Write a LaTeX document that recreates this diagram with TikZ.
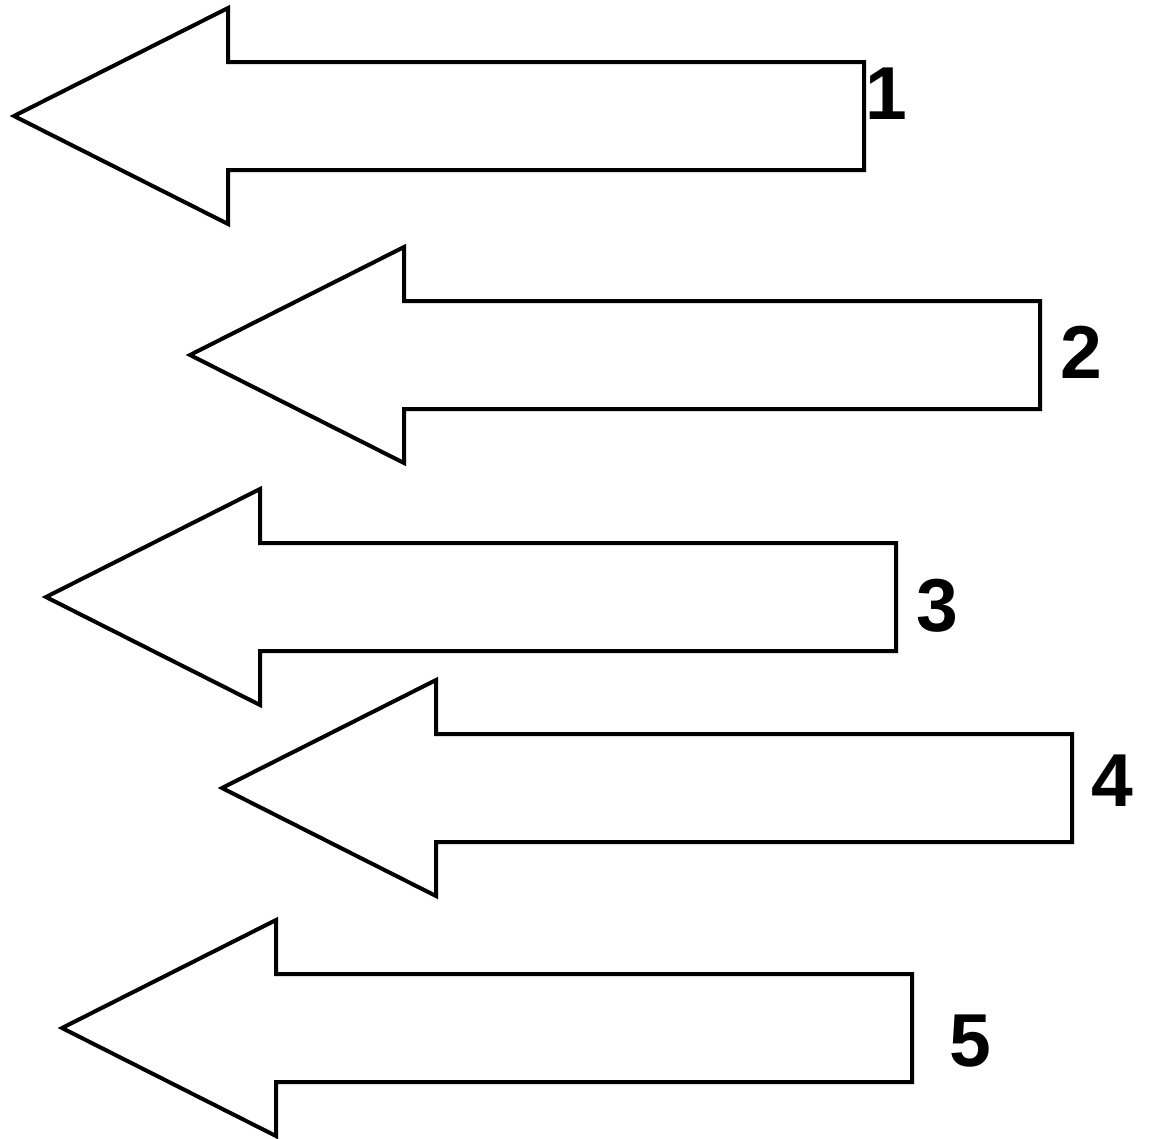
\documentclass[tikz,border=0pt]{standalone}
\usepackage{fontspec}
\setmainfont{Liberation Sans}
\usepackage{tikz}

\begin{document}
\begin{tikzpicture}[x=0.02cm, y=-0.02cm,
		arrowline/.style={draw=black, line width=0.08cm, fill=white},
		numlabel/.style={inner sep=0pt, font=\fontsize{42.7}{45}\selectfont\bfseries}]
		\useasboundingbox (0,0) rectangle (1153,1139);
		% tip x / tip y / shaft end x / label x / label y / text
		\foreach \tx/\ty/\rx/\lx/\ly/\name in {
			14/116/864/886/94/1,
			190/355/1040/1081/352/2,
			46/597/896/937/606/3,
			222/788/1072/1112/781/4,
			62/1028/912/970/1041/5
		 }{
			\draw[arrowline] (\tx,\ty) -- ++(214,-108) -- ++(0,54) -- (\rx,{\ty-54})
				-- (\rx,{\ty+54}) -- ({\tx+214},{\ty+54}) -- ++(0,54) -- cycle;
			\node[numlabel] (lab\name) at (\lx,\ly) {\name};
		 }
\end{tikzpicture}
\end{document}
